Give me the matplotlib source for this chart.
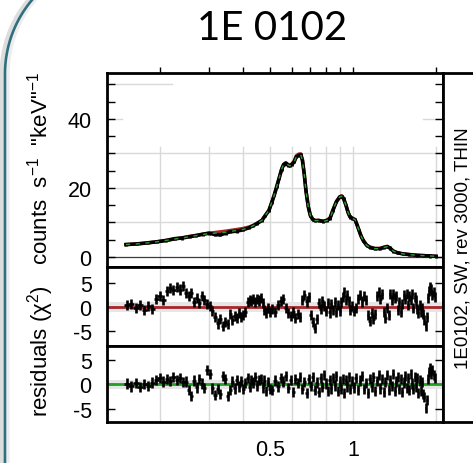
import numpy as np
import matplotlib
matplotlib.use("Agg")
import matplotlib.pyplot as plt
from matplotlib.ticker import FixedLocator, NullFormatter, FixedFormatter

plt.rcParams['font.family'] = ['Liberation Sans', 'DejaVu Sans']
plt.rcParams['axes.unicode_minus'] = False
plt.rcParams['mathtext.fontset'] = 'custom'
plt.rcParams['mathtext.rm'] = 'Liberation Sans'
plt.rcParams['mathtext.it'] = 'Liberation Sans:italic'

# ---------------- data ----------------
title = "1E 0102"
side_label = "1E0102, SW, rev 3000, THIN"
ylabel_top = 'counts  s$^{-1}$  "keV"$^{-1}$'
ylabel_res = "residuals (χ$^{2}$)"
xtick_vals = [0.5, 1]
xtick_labels = ["0.5", "1"]
xminor_vals = [0.2, 0.3, 0.4, 0.6, 0.7, 0.8, 0.9, 2]

energy_spec = [0.150, 0.165, 0.180, 0.194, 0.210, 0.225, 0.240, 0.256, 0.270, 0.285,
               0.300, 0.315, 0.330, 0.345, 0.358, 0.380, 0.400, 0.420, 0.435, 0.450,
               0.467, 0.480, 0.495, 0.507, 0.518, 0.529, 0.540, 0.551, 0.560, 0.570,
               0.580, 0.590, 0.600, 0.612, 0.622, 0.634, 0.646, 0.655, 0.665, 0.675,
               0.688, 0.700, 0.715, 0.730, 0.750, 0.780, 0.805, 0.825, 0.845, 0.870,
               0.895, 0.910, 0.925, 0.943, 0.960, 0.975, 0.995, 1.017, 1.035, 1.050,
               1.070, 1.090, 1.120, 1.150, 1.200, 1.250, 1.300, 1.330, 1.360, 1.400,
               1.450, 1.520, 1.600, 1.700, 1.800, 1.900, 2.000]
counts_data = [3.6, 3.8, 4.1, 4.4, 4.8, 5.3, 5.5, 5.9, 6.2, 6.6,
               6.9, 6.5, 6.4, 6.9, 7.3, 7.5, 7.9, 8.5, 9.1, 9.8,
               10.6, 12.0, 13.5, 15.8, 18.0, 20.5, 23.0, 25.5, 26.8, 27.2,
               26.6, 26.4, 26.8, 27.6, 29.0, 29.4, 29.6, 28.0, 24.0, 19.0,
               14.5, 12.0, 10.8, 10.5, 10.6, 10.3, 10.6, 11.2, 13.5, 16.0,
               17.4, 17.6, 16.8, 14.9, 12.8, 11.6, 11.2, 10.8, 9.2, 7.8,
               6.0, 4.7, 3.4, 2.8, 2.4, 2.4, 2.8, 3.0, 2.6, 1.7,
               1.2, 0.9, 0.7, 0.5, 0.4, 0.3, 0.2]
model_red = [3.6, 3.8, 4.1, 4.4, 4.8, 5.2, 5.6, 6.0, 6.3, 6.6,
             6.9, 7.1, 7.3, 7.5, 7.7, 8.0, 8.3, 8.7, 9.2, 9.8,
             10.6, 12.0, 13.4, 15.8, 18.0, 20.5, 23.0, 25.5, 26.8, 27.3,
             26.9, 26.6, 27.0, 27.9, 29.3, 29.8, 29.9, 28.3, 24.2, 19.2,
             14.6, 12.1, 10.9, 10.6, 10.6, 10.4, 10.7, 11.3, 13.6, 16.1,
             17.5, 17.7, 16.9, 15.0, 12.9, 11.7, 11.2, 10.8, 9.2, 7.8,
             6.0, 4.8, 3.5, 2.9, 2.5, 2.5, 2.9, 3.1, 2.6, 1.7,
             1.2, 0.9, 0.7, 0.5, 0.4, 0.3, 0.2]
model_green = [3.6, 3.8, 4.1, 4.4, 4.8, 5.2, 5.5, 5.9, 6.2, 6.5,
               6.8, 6.9, 7.0, 7.2, 7.4, 7.7, 8.0, 8.5, 9.1, 9.8,
               10.6, 12.0, 13.5, 15.8, 18.0, 20.5, 23.0, 25.5, 26.8, 27.2,
               26.7, 26.4, 26.8, 27.6, 29.0, 29.4, 29.6, 28.0, 24.0, 19.0,
               14.5, 12.0, 10.8, 10.5, 10.6, 10.3, 10.6, 11.2, 13.5, 16.0,
               17.4, 17.6, 16.8, 14.9, 12.8, 11.6, 11.2, 10.8, 9.2, 7.8,
               6.0, 4.7, 3.4, 2.8, 2.4, 2.4, 2.8, 3.0, 2.6, 1.7,
               1.2, 0.9, 0.7, 0.5, 0.4, 0.3, 0.2]

energy_res = [
    0.151, 0.157, 0.163, 0.169, 0.175, 0.181, 0.187, 0.193, 0.199, 0.205,
    0.211, 0.217, 0.223, 0.229, 0.235, 0.241, 0.247, 0.253, 0.259, 0.265,
    0.271, 0.277, 0.283, 0.289, 0.295,
    0.302, 0.309, 0.316, 0.323, 0.330, 0.337, 0.344, 0.351, 0.358, 0.365,
    0.372, 0.379, 0.386, 0.393, 0.400, 0.407, 0.414, 0.421, 0.428, 0.435,
    0.442, 0.449, 0.456, 0.463, 0.470, 0.477, 0.484, 0.491, 0.498,
    0.510, 0.522, 0.534, 0.546, 0.558, 0.570, 0.582, 0.594, 0.606, 0.618,
    0.630, 0.642, 0.654, 0.666, 0.678, 0.690, 0.702, 0.714, 0.726, 0.738,
    0.750, 0.762, 0.774, 0.786, 0.798, 0.810, 0.822, 0.834, 0.846, 0.858,
    0.870, 0.882, 0.894, 0.906, 0.918, 0.930, 0.942, 0.954, 0.966, 0.978, 0.990,
    1.005, 1.023, 1.041, 1.059, 1.077, 1.095, 1.113, 1.131, 1.149, 1.167,
    1.185, 1.203, 1.221, 1.239, 1.257, 1.275, 1.293, 1.311, 1.329, 1.347,
    1.365, 1.383, 1.401, 1.419, 1.437, 1.455, 1.473, 1.491, 1.509, 1.527,
    1.545, 1.563, 1.581, 1.599, 1.617, 1.635, 1.653, 1.671, 1.689, 1.707,
    1.725, 1.743, 1.761, 1.779, 1.797, 1.815, 1.833, 1.851, 1.869, 1.887,
    1.905, 1.923, 1.941, 1.959, 1.977]

resid_red = [
    0.3, 0.5, -0.2, 0.4, -0.6, 0.1, -0.4, 1.6, 2.2, 1.5,
    3.2, 3.9, 3.4, 4.1, 3.6, 4.4, 2.8, 2.2, 2.9, 1.0,
    1.9, 0.8, 2.3, 1.4, 0.6,
    0.2, -0.8, -2.2, -3.5, -2.6, -4.0, -3.1, -3.7, -1.6, -2.7,
    -1.9, -2.4, -1.3, -2.2, -1.7, -1.1, 0.9, 1.5, 1.2, 1.7,
    1.0, 1.6, 1.3, 1.8, 0.8, -0.6, -1.2, -0.3, -1.0,
    -0.4, -1.1, 0.3, 1.2, 1.7, -0.2, -1.3, -2.0, -1.2, -2.4,
    -1.6, -2.2, 1.4, 2.4, 1.1, 2.0, -1.8, -3.2, -4.4, -2.5,
    0.8, -0.4, 1.1, 0.2, -0.9, 0.7, -1.2, 0.5, -0.6, 1.0,
    -1.1, 0.3, -0.8, 0.9, 2.1, 3.0, 1.4, 2.5, 1.2, -0.7, 0.1,
    -0.9, -0.2, 1.6, 2.5, 1.1, 2.2, 1.4, -1.8, -2.9, -1.3,
    -2.6, -1.6, 2.2, 3.0, 1.7, 2.6, -1.0, -2.4, -0.3, -1.8,
    2.6, 1.5, 2.7, 1.8, 2.3, -0.6, 1.0, -1.1, 0.6, 2.4,
    1.6, 2.7, 0.4, 2.2, 1.4, 2.6, -0.2, 2.0, 1.3, -0.5,
    -1.4, 0.3, -1.0, -0.3, -1.5, -2.8, -4.0, -2.2, 1.8, 3.3,
    4.2, 3.6, 2.4, 3.1, 2.0]

resid_green = [
    0.2, -0.4, 0.3, -0.5, 0.1, -0.3, 0.4, 0.9, 1.3, 0.6,
    1.2, 0.7, 1.6, 0.9, 1.4, 0.5, 0.6, -1.2, -2.4, 0.8,
    -0.6, 1.1, 0.2, -0.7, 2.9,
    2.1, -0.8, -2.2, -1.0, -1.9, 1.8, 1.2, -2.3, -1.2, 0.6,
    -0.8, 0.9, -0.4, 0.7, -0.9, 0.3, 1.3, -0.5, 1.0, 0.4,
    1.5, -0.2, 0.9, 1.2, -0.6, 0.8, -1.3, 0.5, -0.9,
    -1.2, 0.8, -0.4, 1.4, 0.6, 1.7, -0.7, 0.9, -1.5, 1.2,
    0.3, 1.6, -0.9, 0.5, -1.8, 1.1, -0.3, 1.5, -1.1, 0.4,
    -1.6, 1.3, -0.5, 1.9, 0.2, -1.3, 1.0, -0.8, 1.4, -0.2,
    1.7, -1.4, 0.6, -0.9, 1.2, -1.7, 0.9, -0.4, 1.5, -1.0, 0.7,
    -0.6, 1.4, -1.2, 0.8, 1.8, -0.9, 0.3, -1.7, 1.1, -0.4,
    1.6, -1.3, 0.7, 2.0, -0.8, 1.2, -1.5, 0.5, 1.9, -1.1,
    0.9, -0.3, 2.2, -1.4, 0.6, 1.5, -0.9, 1.1, -1.6, 0.4,
    1.8, -0.7, 1.3, -1.2, 2.1, 0.2, -1.0, 1.6, -0.5, 1.4,
    -1.8, 0.8, -1.3, 0.5, -2.0, -2.6, -4.9, -3.2, 1.2, 2.6,
    3.3, 2.1, 3.0, 1.9, 1.4]

# ---------------- figure ----------------
W_PX, H_PX = 473, 464
fig = plt.figure(figsize=(W_PX / 100, H_PX / 100), dpi=100)

# slide decoration (rounded teal frame at left)
bg = fig.add_axes([0, 0, 1, 1], zorder=-5)
bg.set_xlim(0, W_PX)
bg.set_ylim(H_PX, 0)
bg.axis('off')
th = np.radians(np.linspace(180, 139.3, 60))
arc_x = np.concatenate([[5, 5], 120 + 115 * np.cos(th)])
arc_y = np.concatenate([[H_PX, 75], 75 - 115 * np.sin(th)])
bg.plot(arc_x - 3, arc_y, color='#cfcfcf', lw=3.5, alpha=0.7, solid_capstyle='butt')
bg.plot(arc_x + 3, arc_y, color='#e6e6e6', lw=2.5, alpha=0.7, solid_capstyle='butt')
bg.plot(arc_x, arc_y, color='#2f6f7e', lw=1.9, solid_capstyle='butt')

L = 107 / W_PX
Wd = 336 / W_PX
ax1 = fig.add_axes([L, 1 - 268 / H_PX, Wd, 194 / H_PX])
ax2 = fig.add_axes([L, 1 - 347 / H_PX, Wd, 79 / H_PX])
ax3 = fig.add_axes([L, 1 - 423 / H_PX, Wd, 76 / H_PX])
xlo, xhi = 0.128, 2.12
grid_c = '#d9d9d9'
tick_fs = 15.5

for ax in (ax1, ax2, ax3):
    ax.set_xscale('log')
    ax.set_xlim(xlo, xhi)
    ax.xaxis.set_major_locator(FixedLocator(xtick_vals))
    ax.xaxis.set_minor_locator(FixedLocator(xminor_vals))
    ax.xaxis.set_minor_formatter(NullFormatter())
    ax.xaxis.set_major_formatter(NullFormatter())
    for s in ax.spines.values():
        s.set_linewidth(2.0)
        s.set_color('black')

# ---- top panel: spectrum ----
ax1.set_ylim(-2.9, 53.3)
for e in xminor_vals + xtick_vals:
    ax1.plot([e, e], [-2.9, 32], color=grid_c, lw=1, zorder=0.5)
for yv in (10, 20, 30):
    ax1.plot([xlo, xhi], [yv, yv], color=grid_c, lw=1, zorder=0.5)
ax1.plot([xlo, 0.145], [40, 40], color=grid_c, lw=1, zorder=0.5)
ax1.plot([1.79, xhi], [40, 40], color=grid_c, lw=1, zorder=0.5)
ax1.plot([xlo, 0.22], [50, 50], color=grid_c, lw=1, zorder=0.5)
ax1.axhline(0, color='#3a3a3a', lw=0.9, zorder=1)
ax1.plot(energy_spec, model_red, color='#a8262a', lw=2.4, zorder=2)
ax1.errorbar(energy_spec, counts_data, yerr=0.45, fmt='-', color='black', lw=2.6,
             elinewidth=2.0, capsize=0, zorder=3)
ax1.plot(energy_spec, model_green, color='#2a9d2a', lw=1.0, dashes=(3, 4), zorder=4)
ax1.yaxis.set_major_locator(FixedLocator([0, 20, 40]))
ax1.yaxis.set_minor_locator(FixedLocator([5, 10, 15, 25, 30, 35, 45, 50]))
ax1.tick_params(axis='y', which='both', left=True, right=True, direction='in',
                length=6, width=1, labelsize=tick_fs, pad=11)
ax1.tick_params(axis='x', which='both', bottom=False, top=True, direction='out',
                length=4, width=1, labelbottom=False)

# ---- residual panels ----
half_w = np.gradient(np.array(energy_res)) / 2 * 1.3
for ax, res, lc in ((ax2, resid_red, '#a8262a'), (ax3, resid_green, '#22a022')):
    ax.set_ylim(-8.2, 8.3)
    for e in xminor_vals + xtick_vals:
        ax.axvline(e, color=grid_c, lw=1, zorder=0.5)
    ax.axhspan(-1.0, 1.0, color='#e6e6e6', zorder=1, lw=0)
    ax.axhline(0, color=lc, lw=2.0, zorder=2)
    ax.errorbar(energy_res, res, xerr=half_w, yerr=1.05, fmt='none', ecolor='black',
                elinewidth=1.9, capsize=0, zorder=3)
    ax.yaxis.set_major_locator(FixedLocator([-5, 0, 5]))
    ax.yaxis.set_major_formatter(FixedFormatter(['-5', '0', '5']))
    ax.tick_params(axis='y', which='both', left=True, right=True, direction='in',
                   length=6, width=1, labelsize=tick_fs, pad=11)
    ax.tick_params(axis='x', which='both', bottom=True, top=False, direction='in',
                   length=0, labelbottom=False)
ax3.set_ylim(-7.7, 7.9)
ax3.xaxis.set_major_formatter(FixedFormatter(xtick_labels))
ax3.tick_params(axis='x', which='major', labelbottom=True, labelsize=tick_fs, pad=12)

# right-hand label box
axr = fig.add_axes([443 / W_PX, 1 - 423 / H_PX, 0.2, 349 / H_PX])
axr.set_xticks([])
axr.set_yticks([])
for s in axr.spines.values():
    s.set_linewidth(2.0)
fig.text(463 / W_PX, 1 - 248 / H_PX, side_label, rotation=90, ha='center',
         va='center', fontsize=13.5)

# labels and title
fig.text(40 / W_PX, 1 - 168 / H_PX, ylabel_top, rotation=90, ha='center',
         va='center', fontsize=16)
fig.text(41 / W_PX, 1 - 351 / H_PX, ylabel_res, rotation=90, ha='center',
         va='center', fontsize=16)
fig.text(272 / W_PX, 1 - 28 / H_PX, title, ha='center', va='center',
         fontsize=29, family=['Lato', 'DejaVu Sans'])

fig.savefig('out.png', dpi=100)
